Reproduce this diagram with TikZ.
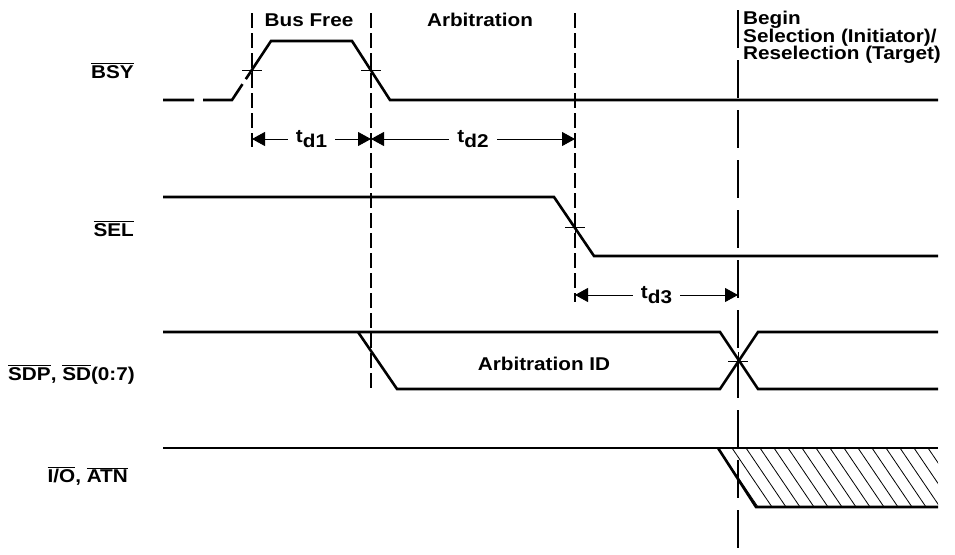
\documentclass[tikz,border=0pt]{standalone}
\usepackage{fontspec}
\setmainfont{Liberation Sans}[FakeStretch=1.12]
\usetikzlibrary{arrows.meta}
\newcommand{\nbar}[1]{$\overline{\mbox{#1}}$}

\begin{document}
\begin{tikzpicture}[x=1pt,y=-1pt,
    sig/.style={line width=2.6pt},
    refline/.style={line width=1.2pt, dash pattern=on 15pt off 5pt},
    mainref/.style={line width=2.2pt, dash pattern=on 38pt off 12pt},
    txt/.style={font=\fontsize{18.5}{17.5}\selectfont\bfseries, inner sep=0pt},
    tdlbl/.style={txt, fill=white, inner xsep=8pt, inner ysep=2pt},
    dim/.style={line width=0.9pt, {Triangle[length=13pt,width=14pt]}-{Triangle[length=13pt,width=14pt]}},
    tick/.style={line width=0.9pt},
    hatch/.style={line width=0.8pt}]

    % 0. Page frame
    \useasboundingbox (0,0) rectangle (955,554);

    % 1. Phase lines
    \foreach \x/\yb in {252/147, 371/388, 575/302}
        \draw[refline] (\x,13) -- (\x,\yb);
    \draw[mainref] (738,10) -- (738,552);

    % 2. Phase titles
    \node[txt, anchor=base] (busfree) at (309,26) {Bus Free};
    \node[txt, anchor=base] (arbit) at (480,26) {Arbitration};
    \node[txt, anchor=north west, align=left] (begin) at (743,11)
        {Begin\\Selection (Initiator)/\\Reselection (Target)};

    % 3. Signal names
    \node[txt, anchor=base east] (bsy) at (134,78) {\nbar{BSY}};
    \node[txt, anchor=base east] (sel) at (134,236) {\nbar{SEL}};
    \node[txt, anchor=base east] (sdp) at (135,380) {\nbar{SDP}, \nbar{SD}(0:7)};
    \node[txt, anchor=base east] (io) at (128,482) {\nbar{I/O}, \nbar{ATN}};

    % 4. BSY
    \draw[sig, dash pattern=on 31pt off 9pt on 48pt off 6pt on 2000pt]
        (163,100) -- (232,100) -- (271,41) -- (352,41) -- (390,100) -- (938,100);

    % 5. SEL
    \draw[sig] (163,197) -- (554,197) -- (594,256) -- (938,256);

    % 6. SDP, SD(0:7)
    \draw[sig] (163,332) -- (720,332) -- (758,389) -- (938,389);
    \draw[sig] (358,332) -- (397,389) -- (720,389) -- (758,332) -- (938,332);
    \node[txt, anchor=base] (arbid) at (544,370) {Arbitration ID};

    % 7. I/O, ATN with hatched part
    \draw[sig] (163,448) -- (938,448);
    \draw[sig] (718,448) -- (756,507) -- (938,507);
    \begin{scope}
        \clip (718,448) -- (938,448) -- (938,507) -- (756,507) -- cycle;
        \foreach \x in {676,690,...,940}
            \draw[hatch] (\x,448) -- ++(40,59);
    \end{scope}

    % 8. Crossing marks
    \foreach \x/\y in {252/70, 371/70, 575/227, 738/361}
        \draw[tick] (\x-10,\y) -- (\x+10,\y) (\x,\y-9) -- (\x,\y+9);

    % 9. Delays
    \coordinate (d1a) at (252,139);
    \coordinate (d1b) at (371,139);
    \coordinate (d2b) at (575,139);
    \coordinate (d3a) at (575,295);
    \coordinate (d3b) at (738,295);
    \draw[dim] (d1a) -- node[tdlbl] (td1) {t\raisebox{-5pt}{d1}} (d1b);
    \draw[dim] (d1b) -- node[tdlbl] (td2) {t\raisebox{-5pt}{d2}} (d2b);
    \draw[dim] (d3a) -- node[tdlbl] (td3) {t\raisebox{-5pt}{d3}} (d3b);

\end{tikzpicture}
\end{document}
